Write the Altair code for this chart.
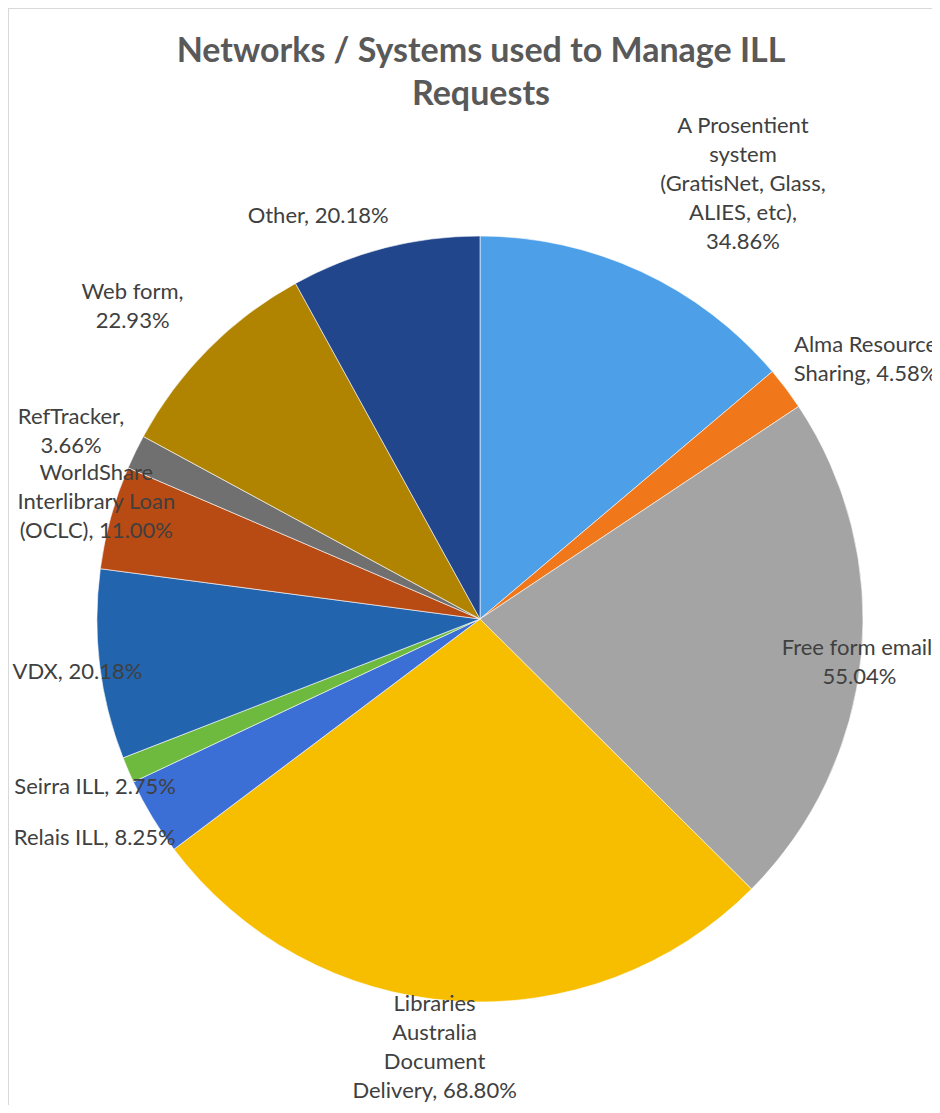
import altair as alt
import pandas as pd

# ---- data ----
categories = [
    "A Prosentient system (GratisNet, Glass, ALIES, etc)",
    "Alma Resource Sharing",
    "Free form email",
    "Libraries Australia Document Delivery",
    "Relais ILL",
    "Seirra ILL",
    "VDX",
    "WorldShare Interlibrary Loan (OCLC)",
    "RefTracker",
    "Web form",
    "Other",
]
values = [34.86, 4.58, 55.04, 68.80, 8.25, 2.75, 20.18, 11.00, 3.66, 22.93, 20.18]
label_texts = [
    "A Prosentient\nsystem\n(GratisNet, Glass,\nALIES, etc),\n34.86%",
    "Alma Resource\nSharing, 4.58%",
    "Free form email,\n55.04%",
    "Libraries\nAustralia\nDocument\nDelivery, 68.80%",
    "Relais ILL, 8.25%",
    "Seirra ILL, 2.75%",
    "VDX, 20.18%",
    "WorldShare\nInterlibrary Loan\n(OCLC), 11.00%",
    "RefTracker,\n3.66%",
    "Web form,\n22.93%",
    "Other, 20.18%",
]
colors = [
    "#4DA0E8", "#F0781A", "#A4A4A4", "#F7BE00", "#3B6FD6", "#6DBA3F",
    "#2264AD", "#B84A14", "#707070", "#B08400", "#22468C",
]
title_lines = ["Networks / Systems used to Manage ILL", "Requests"]

# ---- label layout (distance from centre in px, angular nudge in degrees) ----
label_radius = [508, 465, 382, 431, 443, 420, 406, 401, 450, 467, 434]
label_nudge = [6.3, 3.0, 1.0, 2.1, 1.5, -0.4, -0.6, 1.5, -1.2, -2.9, -7.5]

df = pd.DataFrame({
    "idx": list(range(len(categories))),
    "category": categories,
    "value": values,
    "label": label_texts,
    "lr": label_radius,
    "nudge": label_nudge,
})

W, H = 924, 1097
CX, CY, R = 472, 611, 383
LH = 29
FONT = "Lato"
one = pd.DataFrame({"t": [0]})

pie = alt.Chart(df).mark_arc(
    outerRadius=R, x=CX, y=CY, stroke="#FFFFFF", strokeWidth=0.6
).encode(
    theta=alt.Theta("value:Q", stack=True),
    color=alt.Color("category:N", scale=alt.Scale(domain=categories, range=colors), legend=None),
    order=alt.Order("idx:Q"),
)

labels = alt.Chart(df).transform_joinaggregate(
    total="sum(value)"
).transform_window(
    cum="sum(value)", sort=[alt.SortField("idx")], frame=[None, 0]
).transform_calculate(
    ang="2*PI*(datum.cum - datum.value/2)/datum.total + datum.nudge*PI/180",
    nl="length(split(datum.label, '\\n'))",
).transform_calculate(
    lx=f"{CX} + datum.lr*sin(datum.ang)",
    ly=f"{CY} - datum.lr*cos(datum.ang) - (datum.nl - 1)*{LH}/2",
).mark_text(
    font=FONT, fontSize=22, color="#404040", lineBreak="\n",
    lineHeight=LH, align="center", baseline="middle"
).encode(
    x=alt.X("lx:Q", scale=None),
    y=alt.Y("ly:Q", scale=None),
    text="label:N",
)

title = alt.Chart(one).mark_text(
    text=title_lines, x=473, y=54, font=FONT, fontSize=34, fontWeight="bold",
    color="#595959", lineHeight=43, align="center", baseline="alphabetic"
).encode(opacity=alt.value(1))

# chart-area frame: only the top and left edges are visible in the reference
border_top = alt.Chart(one).mark_rule(color="#D9D9D9", strokeWidth=1).encode(
    x=alt.value(0), x2=alt.value(W), y=alt.value(0.5)
)
border_left = alt.Chart(one).mark_rule(color="#D9D9D9", strokeWidth=1).encode(
    x=alt.value(0.5), y=alt.value(0), y2=alt.value(H)
)

chart = alt.layer(border_top, border_left, pie, labels, title).properties(
    width=W, height=H,
    autosize=alt.AutoSizeParams(type="none"),
    padding=0,
).configure_view(strokeWidth=0)

chart.save("out.html", embed_options={"renderer": "svg", "actions": False})
